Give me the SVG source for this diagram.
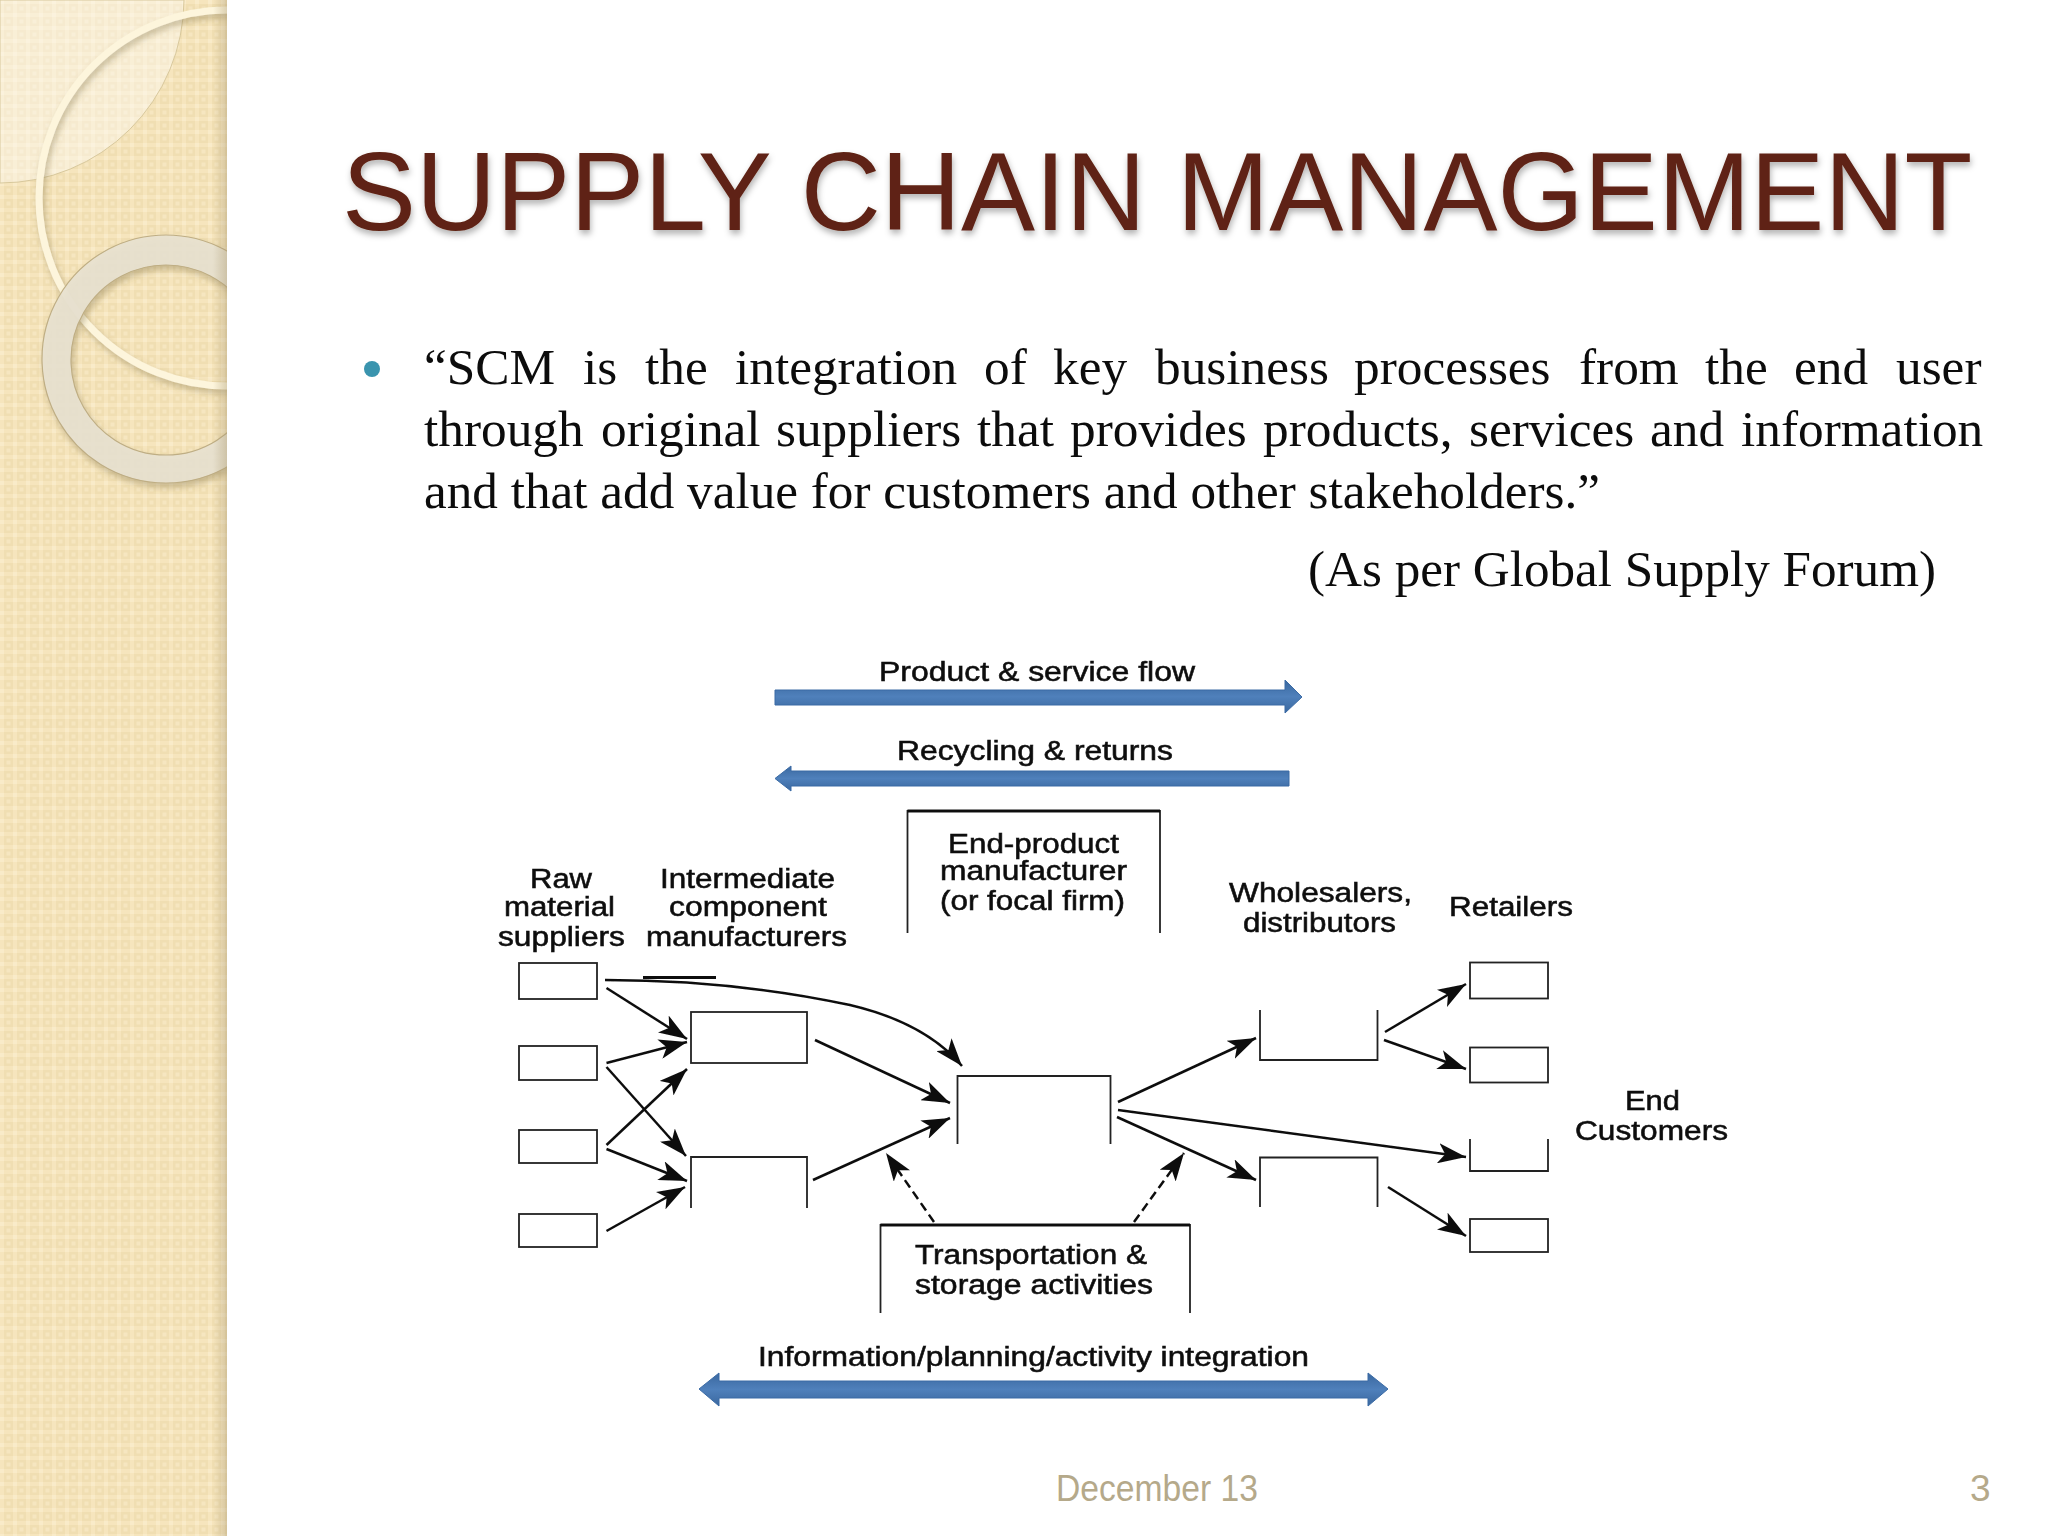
<svg xmlns="http://www.w3.org/2000/svg" width="2048" height="1536" viewBox="0 0 2048 1536">
<style>
.d{font-family:"Liberation Sans",Arial,sans-serif;font-size:27px;fill:#111;stroke:#111;stroke-width:.55;text-anchor:start}
.b{font-family:"Liberation Serif","Times New Roman",serif;font-size:51.3px;fill:#0c0c0c}
.f{font-family:"Liberation Sans",Arial,sans-serif;font-size:37px;fill:#b5a98a}
.box{fill:#fff;stroke:#222;stroke-width:1.8}
.open{fill:none;stroke:#222;stroke-width:1.8}
.c{fill:none;stroke:#111;stroke-width:2.5;marker-end:url(#ah)}
.dash{stroke-dasharray:9 5}
.band{stroke:#3b6ba5;stroke-width:1}
</style>
<defs>
<marker id="ah" markerUnits="userSpaceOnUse" markerWidth="30" markerHeight="20" refX="28" refY="10" orient="auto"><path d="M0 0L28 10L0 20L7 10Z" fill="#111"/></marker>
<pattern id="chk" width="13" height="13" patternUnits="userSpaceOnUse">
<rect width="13" height="13" fill="#f6e5bd"/>
<rect x="0" y="0" width="4" height="4" fill="#f9ebc9"/>
<rect x="4" y="4" width="9" height="9" fill="#f0deb2"/>
<rect x="6.500" y="6.500" width="4" height="4" fill="#f6e6c0"/>
</pattern>
<linearGradient id="edge" x1="0" x2="1" y1="0" y2="0"><stop offset="0" stop-color="#a99870" stop-opacity="0"/><stop offset="1" stop-color="#a99870" stop-opacity=".4"/></linearGradient>
<linearGradient id="sh" x1="0" x2="0" y1="0" y2="1"><stop offset="0" stop-color="#3a689f"/><stop offset=".5" stop-color="#4f80bb"/><stop offset="1" stop-color="#3a689f"/></linearGradient>
<filter id="ts" x="-5%" y="-20%" width="110%" height="150%"><feDropShadow dx="1" dy="4" stdDeviation="3" flood-color="#000" flood-opacity=".3"/></filter>
<filter id="rs" x="-10%" y="-10%" width="120%" height="120%"><feDropShadow dx="2" dy="4" stdDeviation="3" flood-color="#7a6a40" flood-opacity=".4"/></filter>
<filter id="soft" x="-2%" y="-2%" width="104%" height="104%"><feGaussianBlur stdDeviation=".55"/></filter>
<clipPath id="pc"><rect width="227" height="1536"/></clipPath>
</defs>
<rect width="2048" height="1536" fill="#fff"/>
<g id="panel" clip-path="url(#pc)">
<rect width="227" height="1536" fill="url(#chk)"/>
<path d="M0 0H184A184 184 0 0 1 0 183Z" fill="#fff" fill-opacity=".38" stroke="#d8c89c" stroke-width="1"/>
<circle cx="227" cy="198" r="188" fill="none" stroke="#fdf5dc" stroke-width="7" filter="url(#rs)"/>
<path fill-rule="evenodd" d="M166 235a124 124 0 1 0 .01 0ZM166 265a95 95 0 1 1 -.01 0Z" fill="#e8e2d0" fill-opacity=".92" stroke="#bfae84" stroke-width="1.2" filter="url(#rs)"/>
<rect x="213" width="14" height="1536" fill="url(#edge)"/>
</g>
<text id="title" x="342" y="230" font-family="'Liberation Sans',Arial,sans-serif" font-size="111" fill="#5f2414" filter="url(#ts)">SUPPLY CHAIN MANAGEMENT</text>
<circle id="bullet" cx="372" cy="369" r="8" fill="#3a94ae"/>
<g id="body">
<text class="b" y="384"><tspan x="424">“SCM</tspan><tspan x="583">is</tspan><tspan x="645">the</tspan><tspan x="735">integration</tspan><tspan x="984">of</tspan><tspan x="1053">key</tspan><tspan x="1155">business</tspan><tspan x="1354">processes</tspan><tspan x="1579">from</tspan><tspan x="1705">the</tspan><tspan x="1794">end</tspan><tspan x="1896">user</tspan></text>
<text class="b" y="446"><tspan x="424">through</tspan><tspan x="601">original</tspan><tspan x="776">suppliers</tspan><tspan x="977">that</tspan><tspan x="1070">provides</tspan><tspan x="1263">products,</tspan><tspan x="1469">services</tspan><tspan x="1650">and</tspan><tspan x="1741">information</tspan></text>
<text class="b" x="424" y="507.500" textLength="1176" lengthAdjust="spacingAndGlyphs">and that add value for customers and other stakeholders.”</text>
<text class="b" x="1308" y="586" textLength="628" lengthAdjust="spacingAndGlyphs">(As per Global Supply Forum)</text>
</g>
<g id="flow-arrows">
<path id="product-flow" class="band" fill="url(#sh)" d="M775 690H1285V680L1302 697L1285 713V705H775Z"/>
<path id="recycling" class="band" fill="url(#sh)" d="M775 778.500L791 766V771H1289V786H791V791Z"/>
<path id="information" class="band" fill="url(#sh)" d="M699 1389L719 1373V1381H1368V1373L1388 1389L1368 1406V1398H719V1406Z"/>
</g>
<g id="connectors" filter="url(#soft)">
<path class="c" d="M605 980C700 980 780 990 850 1005C905 1018 940 1040 962 1066"/>
<path d="M643 977.500H716" stroke="#111" stroke-width="3"/>
<path class="c" d="M606.500 988L687 1039"/>
<path class="c" d="M606.500 1063L687 1042"/>
<path class="c" d="M606.500 1067L686 1156"/>
<path class="c" d="M606.500 1145L687 1069"/>
<path class="c" d="M606.500 1149L687 1181"/>
<path class="c" d="M606.500 1231L685 1187"/>
<path class="c" d="M815 1040L950 1103"/>
<path class="c" d="M813 1180L950 1118"/>
<path class="c dash" d="M934 1222L886 1153"/>
<path class="c dash" d="M1134 1222L1184 1153"/>
<path class="c" d="M1118 1102L1256 1038"/>
<path class="c" d="M1118 1110L1466 1157"/>
<path class="c" d="M1117 1117L1256 1180"/>
<path class="c" d="M1385 1032L1466 984"/>
<path class="c" d="M1384 1040L1466 1069"/>
<path class="c" d="M1388 1187L1466 1236"/>
</g>
<g id="end-product" filter="url(#soft)"><path class="open" d="M907.500 933V811H1160V933"/><path d="M907.500 811H1160" stroke="#111" stroke-width="3"/>
<text class="d" x="948" y="853" textLength="171" lengthAdjust="spacingAndGlyphs">End-product</text>
<text class="d" x="940" y="880" textLength="187" lengthAdjust="spacingAndGlyphs">manufacturer</text>
<text class="d" x="940" y="910" textLength="185" lengthAdjust="spacingAndGlyphs">(or focal firm)</text></g>
<g id="raw-label" filter="url(#soft)"><text class="d" x="530" y="888" textLength="62" lengthAdjust="spacingAndGlyphs">Raw</text><text class="d" x="504" y="916" textLength="111" lengthAdjust="spacingAndGlyphs">material</text><text class="d" x="498" y="946" textLength="127" lengthAdjust="spacingAndGlyphs">suppliers</text></g>
<g id="intermediate-label" filter="url(#soft)"><text class="d" x="660" y="888" textLength="175" lengthAdjust="spacingAndGlyphs">Intermediate</text><text class="d" x="669" y="916" textLength="158" lengthAdjust="spacingAndGlyphs">component</text><text class="d" x="646" y="946" textLength="201" lengthAdjust="spacingAndGlyphs">manufacturers</text></g>
<g id="wholesaler-label" filter="url(#soft)"><text class="d" x="1229" y="902" textLength="183" lengthAdjust="spacingAndGlyphs">Wholesalers,</text><text class="d" x="1243" y="932" textLength="153" lengthAdjust="spacingAndGlyphs">distributors</text></g>
<g id="retailer-label" filter="url(#soft)"><text class="d" x="1449" y="916" textLength="124" lengthAdjust="spacingAndGlyphs">Retailers</text></g>
<g id="customers-label" filter="url(#soft)"><text class="d" x="1625" y="1110" textLength="55" lengthAdjust="spacingAndGlyphs">End</text><text class="d" x="1575" y="1140" textLength="153" lengthAdjust="spacingAndGlyphs">Customers</text></g>
<g id="flow-labels" filter="url(#soft)"><text class="d" x="879" y="681" textLength="316" lengthAdjust="spacingAndGlyphs">Product &amp; service flow</text><text class="d" x="897" y="760" textLength="276" lengthAdjust="spacingAndGlyphs">Recycling &amp; returns</text><text class="d" x="758" y="1366" textLength="551" lengthAdjust="spacingAndGlyphs">Information/planning/activity integration</text></g>
<g id="raw-1"><rect class="box" x="519" y="963" width="78" height="36"/></g>
<g id="raw-2"><rect class="box" x="519" y="1046" width="78" height="34"/></g>
<g id="raw-3"><rect class="box" x="519" y="1130" width="78" height="33"/></g>
<g id="raw-4"><rect class="box" x="519" y="1214" width="78" height="33"/></g>
<g id="intermediate-1"><rect class="box" x="691" y="1012" width="116" height="51"/></g>
<g id="intermediate-2"><path class="open" d="M691 1208V1157H807V1208"/></g>
<g id="focal"><path class="open" d="M957.500 1144V1076H1110.500V1144"/></g>
<g id="wholesaler-1"><path class="open" d="M1260 1010V1060H1377.500V1010"/></g>
<g id="wholesaler-2"><path class="open" d="M1260 1207V1157.500H1377.500V1207"/></g>
<g id="retail-1"><rect class="box" x="1470" y="962.500" width="78" height="36"/></g>
<g id="retail-2"><rect class="box" x="1470" y="1047.500" width="78" height="35"/></g>
<g id="retail-3"><path class="open" d="M1470 1139V1171H1548V1139"/></g>
<g id="retail-4"><rect class="box" x="1470" y="1219" width="78" height="33"/></g>
<g id="transport" filter="url(#soft)"><path class="open" d="M880.500 1313V1225H1190V1313"/><path d="M880.500 1225H1190" stroke="#111" stroke-width="3"/>
<text class="d" x="915" y="1264" textLength="232" lengthAdjust="spacingAndGlyphs">Transportation &amp;</text><text class="d" x="915" y="1294" textLength="238" lengthAdjust="spacingAndGlyphs">storage activities</text></g>
<g id="footer"><text class="f" x="1056" y="1501" textLength="202" lengthAdjust="spacingAndGlyphs">December 13</text><text class="f" x="1970" y="1501">3</text></g>
</svg>
